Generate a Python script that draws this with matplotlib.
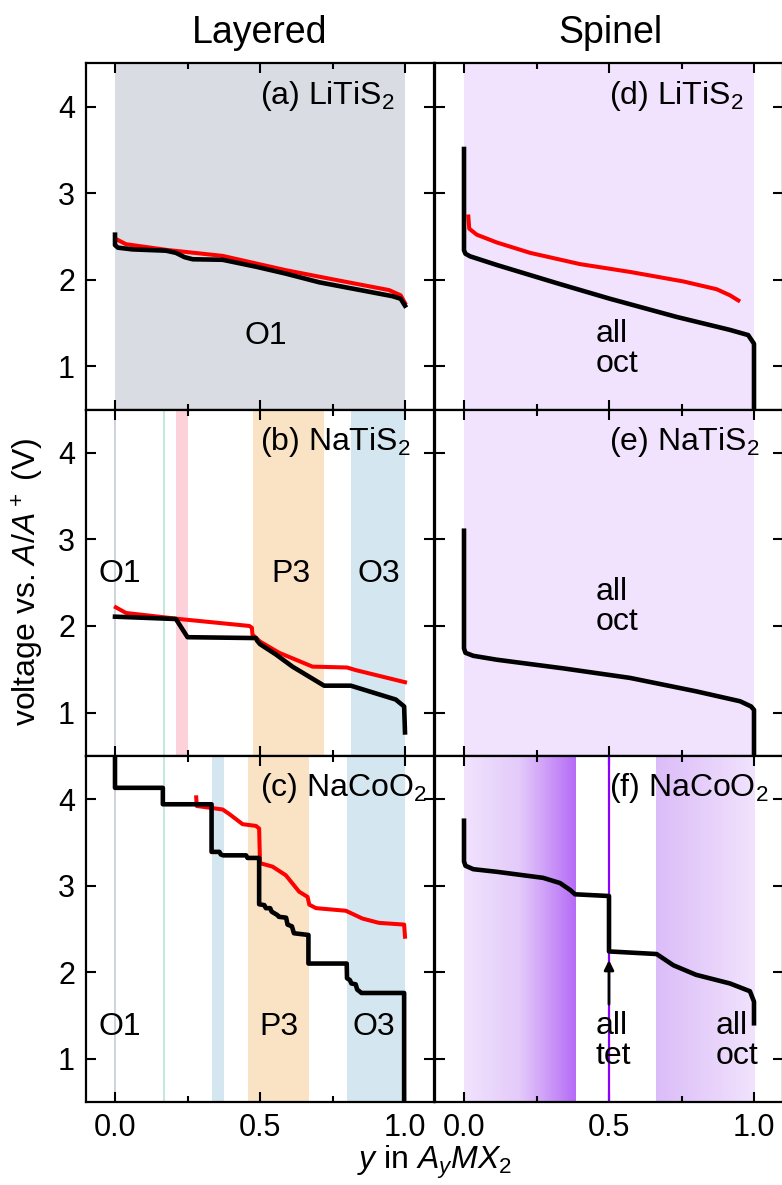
import matplotlib
matplotlib.use('Agg')
import matplotlib.pyplot as plt
import numpy as np
from matplotlib.colors import LinearSegmentedColormap

plt.rcParams.update({
    'font.family': ['Liberation Sans', 'DejaVu Sans'],
    'mathtext.fontset': 'custom',
    'mathtext.rm': 'Liberation Sans',
    'mathtext.it': 'Liberation Sans:italic',
    'mathtext.bf': 'Liberation Sans:bold',
})

# ---------------- data ----------------
a_black_y = [0.0, 0.0, 0.01, 0.06, 0.176, 0.21, 0.24, 0.268, 0.371, 0.486, 0.589, 0.704, 0.83, 0.956, 0.985, 1.0]
a_black_v = [2.52, 2.40, 2.37, 2.35, 2.335, 2.31, 2.26, 2.236, 2.23, 2.15, 2.07, 1.97, 1.89, 1.81, 1.78, 1.70]
a_red_y = [0.003, 0.038, 0.176, 0.371, 0.589, 0.773, 0.945, 0.985, 1.0]
a_red_v = [2.47, 2.41, 2.345, 2.275, 2.11, 1.99, 1.88, 1.82, 1.73]

b_black_y = [0.0, 0.21, 0.25, 0.486, 0.49, 0.5, 0.555, 0.612, 0.721, 0.813, 0.968, 0.997, 1.0]
b_black_v = [2.107, 2.08, 1.87, 1.86, 1.83, 1.79, 1.67, 1.53, 1.31, 1.31, 1.15, 1.07, 0.77]
b_red_y = [0.003, 0.038, 0.222, 0.463, 0.472, 0.474, 0.5, 0.566, 0.681, 0.80, 0.83, 1.0]
b_red_v = [2.215, 2.15, 2.08, 2.0, 1.98, 1.90, 1.82, 1.69, 1.53, 1.52, 1.49, 1.35]

c_black_y = [0.0, 0.0, 0.165, 0.165, 0.333, 0.333, 0.36, 0.365, 0.373, 0.452, 0.457, 0.497, 0.497,
             0.515, 0.52, 0.535, 0.54, 0.55, 0.56, 0.565, 0.59, 0.595, 0.61, 0.617, 0.667, 0.667,
             0.799, 0.80, 0.81, 0.815, 0.83, 0.835, 0.85, 0.997, 0.997]
c_black_v = [4.7, 4.13, 4.13, 3.94, 3.94, 3.39, 3.39, 3.36, 3.35, 3.35, 3.32, 3.32, 2.785,
             2.775, 2.74, 2.74, 2.70, 2.68, 2.66, 2.64, 2.63, 2.55, 2.53, 2.45, 2.43, 2.10,
             2.10, 1.93, 1.91, 1.87, 1.86, 1.80, 1.76, 1.76, 0.3]
c_red_y = [0.28, 0.282, 0.371, 0.393, 0.44, 0.486, 0.497, 0.5, 0.543, 0.589, 0.635, 0.664, 0.67,
           0.693, 0.796, 0.853, 0.91, 0.997, 1.0]
c_red_v = [4.02, 3.92, 3.88, 3.83, 3.71, 3.69, 3.66, 3.26, 3.22, 3.12, 2.93, 2.87, 2.78,
           2.74, 2.71, 2.62, 2.57, 2.55, 2.41]

d_black_y = [0.0, 0.0, 0.005, 0.021, 0.113, 0.32, 0.503, 0.733, 0.917, 0.98, 1.0, 1.0]
d_black_v = [3.51, 2.34, 2.30, 2.27, 2.17, 1.96, 1.78, 1.57, 1.42, 1.36, 1.26, 0.3]
d_red_y = [0.015, 0.018, 0.044, 0.113, 0.228, 0.4, 0.572, 0.756, 0.871, 0.917, 0.946]
d_red_v = [2.73, 2.59, 2.52, 2.43, 2.31, 2.18, 2.09, 1.98, 1.89, 1.82, 1.76]

e_black_y = [0.0, 0.0, 0.005, 0.032, 0.113, 0.342, 0.572, 0.80, 0.952, 0.99, 1.0, 1.0]
e_black_v = [3.10, 1.74, 1.69, 1.655, 1.61, 1.51, 1.40, 1.245, 1.13, 1.07, 1.03, 0.3]

f_black_y = [0.0, 0.0, 0.005, 0.032, 0.113, 0.273, 0.331, 0.366, 0.383, 0.5, 0.5, 0.664, 0.722,
             0.80, 0.917, 0.986, 1.0, 1.0]
f_black_v = [3.75, 3.28, 3.23, 3.19, 3.16, 3.09, 3.03, 2.95, 2.90, 2.88, 2.24, 2.21, 2.08,
             1.97, 1.87, 1.78, 1.66, 1.41]

panel_labels = ['(a) LiTiS$_2$', '(b) NaTiS$_2$', '(c) NaCoO$_2$',
                '(d) LiTiS$_2$', '(e) NaTiS$_2$', '(f) NaCoO$_2$']
column_titles = ['Layered', 'Spinel']
x_ticks = [0.0, 0.5, 1.0]
x_minor = [0.25, 0.75]
y_ticks = [1, 2, 3, 4]

GRAY = '#d9dce2'
LAV = '#f1e3fd'
PINK = '#fdd1da'
ORANGE = '#fae3c5'
BLUE = '#d4e6ef'
GREEN = '#c3ead8'
THIN = '#cfd3dd'

a_bands = [(0.0, 1.0, GRAY)]
b_bands = [(-0.003, 0.004, THIN), (0.164, 0.171, GREEN), (0.212, 0.253, PINK),
           (0.477, 0.72, ORANGE), (0.815, 1.0, BLUE)]
c_bands = [(-0.003, 0.004, THIN), (0.165, 0.173, GREEN), (0.333, 0.377, BLUE),
           (0.457, 0.67, ORANGE), (0.80, 1.0, BLUE)]
d_bands = [(0.0, 1.0, LAV)]
e_bands = [(0.0, 1.0, LAV)]

FS_TICK = 22
FS_TXT = 23
FS_TITLE = 27
FS_LAB = 23

# ---------------- figure ----------------
W, H = 782, 1185
fig = plt.figure(figsize=(W / 100, H / 100), dpi=100)
lefts = [86 / W, 435 / W]
width = 348 / W
bottoms = [0.6544, 0.3622, 0.0700]
height = 0.2922

axes = [[None] * 3 for _ in range(2)]
for c in range(2):
    for r in range(3):
        ax = fig.add_axes([lefts[c], bottoms[r], width, height])
        axes[c][r] = ax

def style(ax, show_x, show_y):
    ax.set_xlim(-0.1, 1.1)
    ax.set_ylim(0.5, 4.5)
    ax.set_xticks(x_ticks)
    ax.set_xticks(x_minor, minor=True)
    ax.set_yticks(y_ticks)
    ax.set_xticklabels(['%.1f' % t for t in x_ticks] if show_x else [])
    ax.set_yticklabels([str(t) for t in y_ticks] if show_y else [])
    ax.tick_params(which='both', direction='in', top=True, right=True, width=1.5,
                   labelsize=FS_TICK, pad=8)
    ax.tick_params(which='major', length=7)
    ax.tick_params(which='minor', length=4)
    for s in ax.spines.values():
        s.set_linewidth(1.6)

LW_K = 3.3
LW_R = 2.9

def bands(ax, bl):
    for x0, x1, col in bl:
        ax.axvspan(x0, x1, color=col, lw=0, zorder=0)

def txt(ax, x, y, s, ha='center'):
    ax.text(x, y, s, fontsize=FS_TXT, ha=ha, va='center', linespacing=1.0, zorder=6)

# (a)
ax = axes[0][0]
bands(ax, a_bands)
ax.plot(a_red_y, a_red_v, color='#ff0000', lw=LW_R, zorder=3)
ax.plot(a_black_y, a_black_v, color='k', lw=LW_K, zorder=4)
txt(ax, 0.52, 1.35, 'O1')

# (b)
ax = axes[0][1]
bands(ax, b_bands)
ax.plot(b_red_y, b_red_v, color='#ff0000', lw=LW_R, zorder=3)
ax.plot(b_black_y, b_black_v, color='k', lw=LW_K, zorder=4)
txt(ax, 0.018, 2.6, 'O1')
txt(ax, 0.607, 2.6, 'P3')
txt(ax, 0.91, 2.6, 'O3')

# (c)
ax = axes[0][2]
bands(ax, c_bands)
ax.plot(c_red_y, c_red_v, color='#ff0000', lw=LW_R, zorder=3)
ax.plot(c_black_y, c_black_v, color='k', lw=LW_K, zorder=4)
txt(ax, 0.018, 1.37, 'O1')
txt(ax, 0.566, 1.37, 'P3')
txt(ax, 0.893, 1.37, 'O3')

# (d)
ax = axes[1][0]
bands(ax, d_bands)
ax.plot(d_red_y, d_red_v, color='#ff0000', lw=LW_R, zorder=3)
ax.plot(d_black_y, d_black_v, color='k', lw=LW_K, zorder=4)
txt(ax, 0.455, 1.2, 'all\noct', ha='left')

# (e)
ax = axes[1][1]
bands(ax, e_bands)
ax.plot(e_black_y, e_black_v, color='k', lw=LW_K, zorder=4)
txt(ax, 0.455, 2.22, 'all\noct', ha='left')

# (f)
ax = axes[1][2]
grad = np.linspace(0, 1, 256).reshape(1, -1)
cm_left = LinearSegmentedColormap.from_list('l', ['#f1e3fd', '#e3cafa', '#b66cf6'])
cm_right = LinearSegmentedColormap.from_list('r', ['#dbbcf8', '#f1e3fd'])
ax.imshow(grad, extent=[0.0, 0.383, 0.5, 4.5], aspect='auto', cmap=cm_left, zorder=0,
          interpolation='bilinear')
ax.imshow(grad, extent=[0.662, 1.0, 0.5, 4.5], aspect='auto', cmap=cm_right, zorder=0,
          interpolation='bilinear')
ax.axvline(0.5, color='#8b00ff', lw=1.6, zorder=2)
ax.plot(f_black_y, f_black_v, color='k', lw=LW_K, zorder=4)
ax.annotate('', xy=(0.5, 2.14), xytext=(0.5, 1.63),
            arrowprops=dict(arrowstyle='-|>', color='k', lw=2.0, mutation_scale=14,
                            shrinkA=0, shrinkB=0), zorder=5)
txt(ax, 0.455, 1.2, 'all\ntet', ha='left')
txt(ax, 0.866, 1.2, 'all\noct', ha='left')

# styles & labels
for c in range(2):
    for r in range(3):
        ax = axes[c][r]
        style(ax, show_x=(r == 2), show_y=(c == 0))
        ax.text(0.5, 4.03, panel_labels[c * 3 + r], fontsize=FS_TXT, ha='left', va='baseline',
                zorder=6)

fig.text(0.3325, 0.972, column_titles[0], fontsize=FS_TITLE, ha='center', va='center')
fig.text(0.781, 0.972, column_titles[1], fontsize=FS_TITLE, ha='center', va='center')
fig.text(0.036, 0.509, 'voltage vs. $A/A^+$ (V)', fontsize=FS_LAB, rotation=90,
         ha='center', va='center')
fig.text(0.556, 0.003, '$y$ in $A_yMX_2$', fontsize=FS_LAB, ha='center', va='bottom')

fig.savefig('out.png', dpi=100)
